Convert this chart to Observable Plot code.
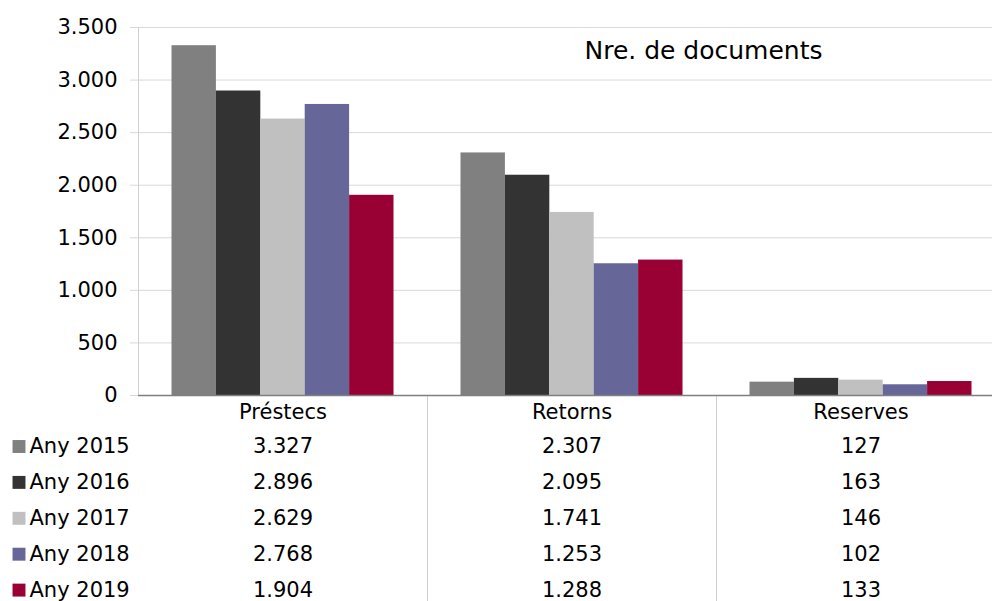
<!DOCTYPE html>
<html>
<head>
<meta charset="utf-8">
<script src="https://cdn.jsdelivr.net/npm/d3@7"></script>
<script src="https://cdn.jsdelivr.net/npm/@observablehq/plot@0.6"></script>
<style>
  html, body { margin: 0; padding: 0; background: #fff; overflow: hidden; width: 992px; height: 601px; }
  #chart svg { display: block; max-width: none !important; width: 1006px !important; height: 601px !important; }
</style>
</head>
<body>
<div id="chart"></div>
<script>
// ---- data ----
const categories = ["Préstecs", "Retorns", "Reserves"];
const years = ["Any 2015", "Any 2016", "Any 2017", "Any 2018", "Any 2019"];
const values2015 = [3327, 2307, 127];
const values2016 = [2896, 2095, 163];
const values2017 = [2629, 1741, 146];
const values2018 = [2768, 1253, 102];
const values2019 = [1904, 1288, 133];
const yTicks = [0, 500, 1000, 1500, 2000, 2500, 3000, 3500];
const title = "Nre. de documents";
const colors = ["#808080", "#333333", "#c0c0c0", "#666699", "#990033"];

const seriesValues = [values2015, values2016, values2017, values2018, values2019];
const rows = years.flatMap((year, i) =>
  categories.map((cat, j) => ({year, cat, value: seriesValues[i][j]})));

// ---- layout ----
const W = 1006, H = 601;
const mL = 138, mR = 1, mT = 27, mB = 206;
const bandW = (W - mL - mR) / categories.length;
const groupPad = 33.5;
const barW = (bandW - 2 * groupPad) / years.length;
const frameH = H - mT - mB;
const rowStart = 51, rowStep = 35.9;
const font = "DejaVu Sans, sans-serif";
const fmt = (v) => d3.format(",")(v).replace(/,/g, ".");

const marks = [
  Plot.gridY(yTicks, {stroke: "#d9d9d9", strokeOpacity: 1, strokeWidth: 1}),
  Plot.axisY(yTicks, {
    tickSize: 8, tickPadding: 13, stroke: "#d9d9d9", fill: "#000",
    fontSize: 21, tickFormat: fmt, label: null
  }),
  // y axis line
  Plot.ruleX([categories[0]], {x: d => d, dx: -bandW / 2, stroke: "#d0d0d0", strokeWidth: 1}),
  // table column separators
  Plot.ruleX(categories.slice(1), {x: d => d, dx: -bandW / 2, stroke: "#d0d0d0", strokeWidth: 1,
    insetTop: frameH, insetBottom: -mB}),
];

years.forEach((year, i) => {
  marks.push(Plot.barY(rows.filter(d => d.year === year), {
    x: "cat", y: "value", fill: "year",
    insetLeft: groupPad + i * barW, insetRight: groupPad + (years.length - 1 - i) * barW
  }));
});

marks.push(Plot.ruleY([0], {stroke: "#7f7f7f", strokeWidth: 1.5}));

// category header of the data table
marks.push(Plot.text(categories, {x: d => d, frameAnchor: "bottom", lineAnchor: "middle", dy: 17, fontSize: 21, fill: "#000"}));

// data table rows + legend keys
years.forEach((year, i) => {
  const dy = rowStart + i * rowStep;
  marks.push(Plot.text(rows.filter(d => d.year === year), {
    x: "cat", frameAnchor: "bottom", lineAnchor: "middle", dy, text: d => fmt(d.value), fontSize: 21, fill: "#000"
  }));
  marks.push(Plot.dot([year], {
    frameAnchor: "bottom-left", dx: 18.5 - mL, dy, fill: d => d, symbol: "square", r: 7.3, stroke: null
  }));
  marks.push(Plot.text([year], {
    frameAnchor: "bottom-left", dx: 29 - mL, dy, text: d => d, textAnchor: "start", lineAnchor: "middle",
    fontSize: 21, fill: "#000"
  }));
});

// chart title inside plot area
marks.push(Plot.text([title], {frameAnchor: "top-left", dx: 703 - mL, dy: 23, text: d => d,
  textAnchor: "middle", lineAnchor: "middle", fontSize: 25, fill: "#000"}));

const chart = Plot.plot({
  width: W, height: H,
  marginLeft: mL, marginRight: mR, marginTop: mT, marginBottom: mB,
  style: {fontFamily: font, background: "#fff", color: "#000", overflow: "visible"},
  x: {domain: categories, paddingInner: 0, paddingOuter: 0, axis: null},
  y: {domain: [0, 3500], axis: null},
  color: {domain: years, range: colors},
  marks
});
document.getElementById("chart").appendChild(chart);
</script>
</body>
</html>
